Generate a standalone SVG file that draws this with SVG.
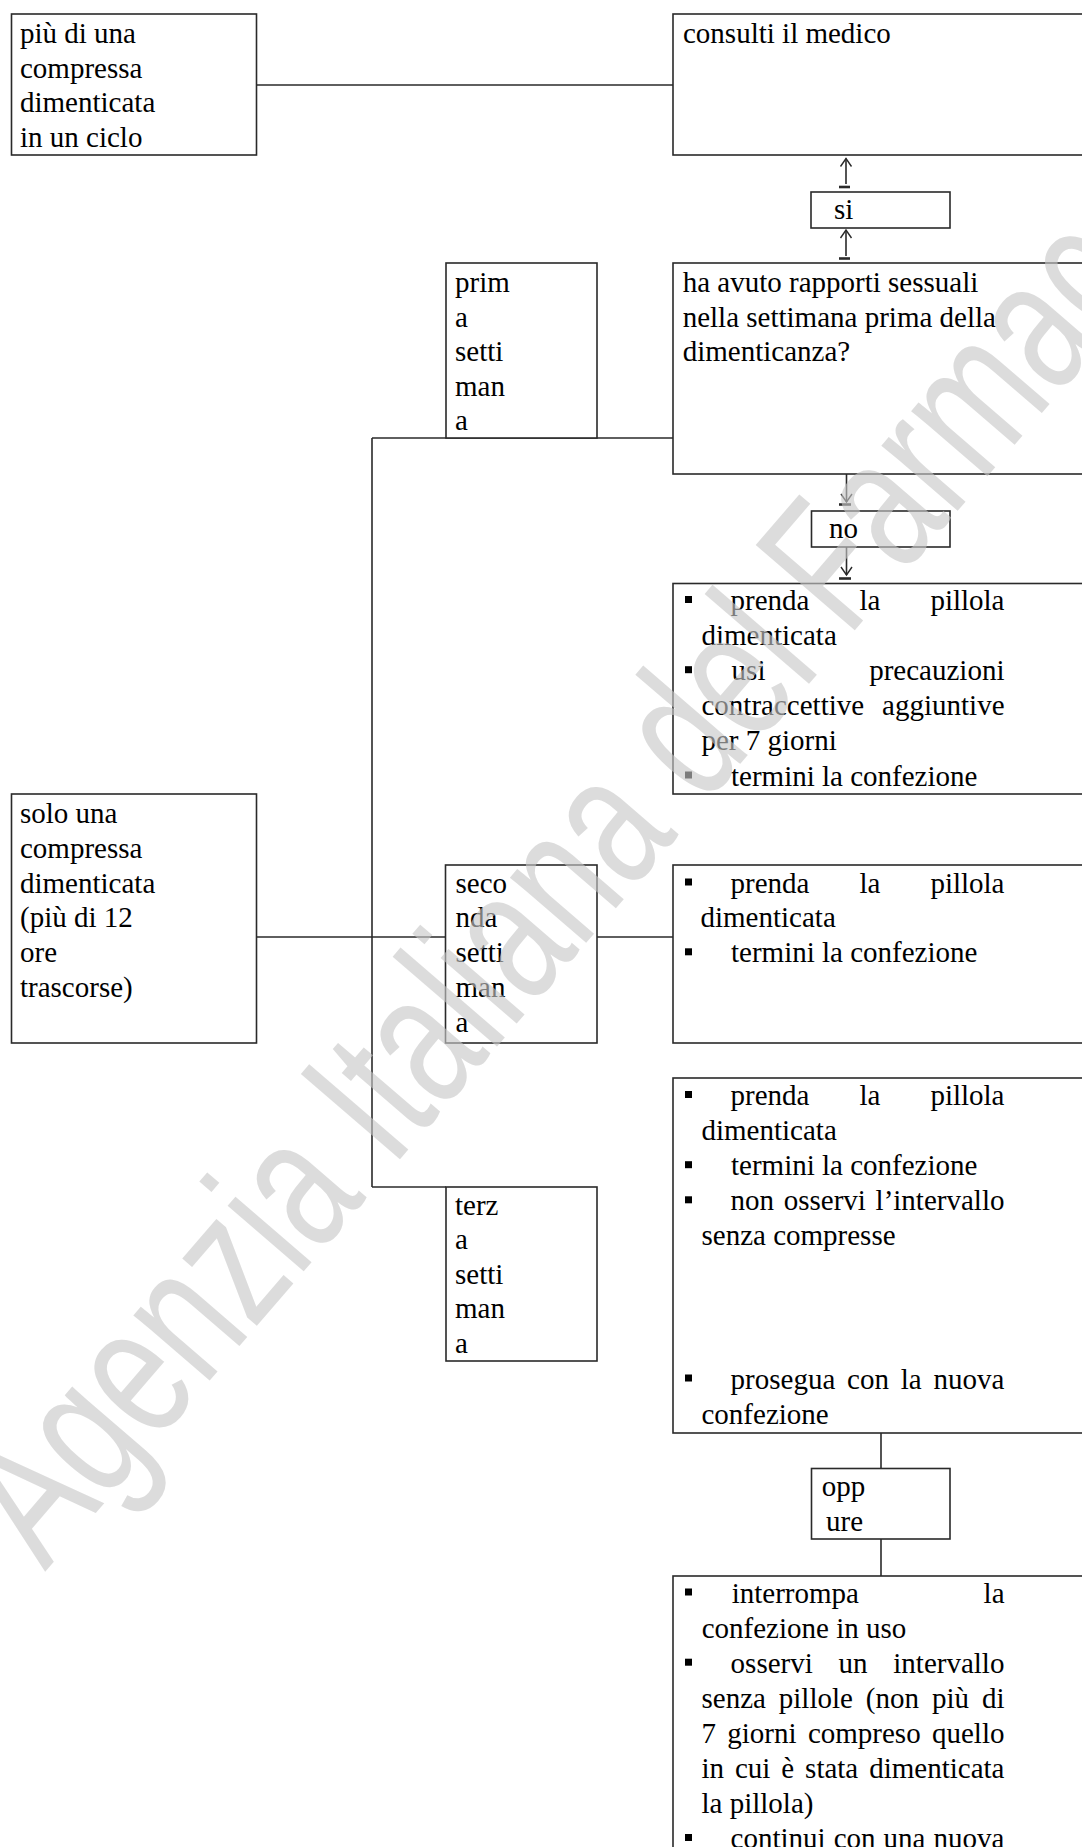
<svg xmlns="http://www.w3.org/2000/svg" width="1082" height="1847" viewBox="0 0 1082 1847">
<style>
.box{fill:#fff;stroke:#2a2a2a;stroke-width:1.6}
.ln{fill:none;stroke:#2a2a2a;stroke-width:1.6}
.tk{fill:none;stroke:#2a2a2a;stroke-width:2.6}
.t{font-family:"Liberation Serif","Times New Roman",serif;font-size:29px;fill:#000}
.b{fill:#000}
.wm{font-family:"Liberation Sans",Arial,sans-serif;font-size:190px;fill:#c8c8c8;opacity:0.62}
</style>
<defs>
<marker id="arr" markerUnits="userSpaceOnUse" viewBox="0 -7 9 14" refX="8" refY="0" markerWidth="9" markerHeight="14" orient="auto" overflow="visible">
<polyline points="0,-5.5 8,0 0,5.5" fill="none" stroke="#2a2a2a" stroke-width="1.4"/>
</marker>
</defs>
<rect width="1082" height="1847" fill="#fff"/>

<g id="connectors">
<line class="ln" x1="257" y1="85" x2="673" y2="85"/>
<line class="ln" x1="846" y1="256" x2="846" y2="230" marker-end="url(#arr)"/>
<line class="tk" x1="839" y1="258.5" x2="850" y2="258.5"/>
<line class="ln" x1="846" y1="184" x2="846" y2="158.5" marker-end="url(#arr)"/>
<line class="tk" x1="839" y1="187" x2="850" y2="187"/>
<line class="ln" x1="846.5" y1="474" x2="846.5" y2="502" marker-end="url(#arr)"/>
<line class="tk" x1="839" y1="504.5" x2="851" y2="504.5"/>
<line class="ln" x1="846.5" y1="547" x2="846.5" y2="575" marker-end="url(#arr)"/>
<line class="tk" x1="839" y1="578.5" x2="851" y2="578.5"/>
<line class="ln" x1="372" y1="438" x2="372" y2="1187"/>
<line class="ln" x1="372" y1="438" x2="673" y2="438"/>
<line class="ln" x1="257" y1="937" x2="446" y2="937"/>
<line class="ln" x1="597" y1="937" x2="673" y2="937"/>
<line class="ln" x1="372" y1="1187" x2="446" y2="1187"/>
<line class="ln" x1="881" y1="1433" x2="881" y2="1468"/>
<line class="ln" x1="881" y1="1539" x2="881" y2="1576"/>
</g>

<g id="n-piu">
<rect class="box" x="11.5" y="14" width="245" height="141"/>
<text class="t" x="20" y="43.3">più di una</text>
<text class="t" x="20" y="77.8">compressa</text>
<text class="t" x="20" y="112.3">dimenticata</text>
<text class="t" x="20" y="146.8">in un ciclo</text>
</g>

<g id="n-consulti">
<rect class="box" x="673" y="14" width="440" height="141"/>
<text class="t" x="683" y="43">consulti il medico</text>
</g>

<g id="n-si">
<rect class="box" x="811" y="192" width="139" height="36"/>
<text class="t" x="834" y="219">si</text>
</g>

<g id="n-rapporti">
<rect class="box" x="673" y="263" width="440" height="211"/>
<text class="t" x="682.7" y="292">ha avuto rapporti sessuali</text>
<text class="t" x="682.7" y="326.6">nella settimana prima della</text>
<text class="t" x="682.7" y="361.2">dimenticanza?</text>
</g>

<g id="n-prima">
<rect class="box" x="446" y="263" width="151" height="175"/>
<text class="t" x="455" y="292">prim</text>
<text class="t" x="455" y="326.6">a</text>
<text class="t" x="455" y="361.2">setti</text>
<text class="t" x="455" y="395.8">man</text>
<text class="t" x="455" y="430.4">a</text>
</g>

<g id="n-no">
<rect class="box" x="811.5" y="511" width="138.5" height="36"/>
<text class="t" x="829" y="538.3">no</text>
</g>

<g id="n-res1">
<rect class="box" x="673" y="583.5" width="440" height="210.5"/>
<rect class="b" x="685" y="596" width="7" height="7"/>
<text class="t" y="610"><tspan x="730.6">prenda</tspan><tspan x="859.5">la</tspan><tspan x="930.4">pillola</tspan></text>
<text class="t" x="701.5" y="645.1">dimenticata</text>
<rect class="b" x="685" y="666.2" width="7" height="7"/>
<text class="t" y="680.2"><tspan x="731.6">usi</tspan><tspan x="869.2">precauzioni</tspan></text>
<text class="t" y="715.3"><tspan x="701.5">contraccettive</tspan><tspan x="882.1">aggiuntive</tspan></text>
<text class="t" x="701.5" y="750.4">per 7 giorni</text>
<rect class="b" x="685" y="771.5" width="7" height="7"/>
<text class="t" x="731" y="785.5">termini la confezione</text>
</g>

<g id="n-solo">
<rect class="box" x="11.5" y="794" width="245" height="249"/>
<text class="t" x="20" y="822.7">solo una</text>
<text class="t" x="20" y="857.6">compressa</text>
<text class="t" x="20" y="892.5">dimenticata</text>
<text class="t" x="20" y="927.4">(più di 12</text>
<text class="t" x="20" y="962.3">ore</text>
<text class="t" x="20" y="997.2">trascorse)</text>
</g>

<g id="n-seconda">
<rect class="box" x="445.5" y="865" width="151.5" height="178"/>
<text class="t" x="455.5" y="892.5">seco</text>
<text class="t" x="455.5" y="927.4">nda</text>
<text class="t" x="455.5" y="962.3">setti</text>
<text class="t" x="455.5" y="997.2">man</text>
<text class="t" x="455.5" y="1032.1">a</text>
</g>

<g id="n-res2">
<rect class="box" x="673" y="865" width="440" height="178"/>
<rect class="b" x="685" y="878.5" width="7" height="7"/>
<text class="t" y="892.5"><tspan x="730.6">prenda</tspan><tspan x="859.5">la</tspan><tspan x="930.4">pillola</tspan></text>
<text class="t" x="700.5" y="927.4">dimenticata</text>
<rect class="b" x="685" y="948.3" width="7" height="7"/>
<text class="t" x="731" y="962.3">termini la confezione</text>
</g>

<g id="n-terza">
<rect class="box" x="446" y="1187" width="151" height="174"/>
<text class="t" x="455" y="1215">terz</text>
<text class="t" x="455" y="1249.4">a</text>
<text class="t" x="455" y="1283.8">setti</text>
<text class="t" x="455" y="1318.2">man</text>
<text class="t" x="455" y="1352.6">a</text>
</g>

<g id="n-res3">
<rect class="box" x="673" y="1078" width="440" height="355"/>
<rect class="b" x="685" y="1091" width="7" height="7"/>
<text class="t" y="1105"><tspan x="730.6">prenda</tspan><tspan x="859.5">la</tspan><tspan x="930.4">pillola</tspan></text>
<text class="t" x="701.5" y="1140.1">dimenticata</text>
<rect class="b" x="685" y="1161.2" width="7" height="7"/>
<text class="t" x="731" y="1175.2">termini la confezione</text>
<rect class="b" x="685" y="1196.3" width="7" height="7"/>
<text class="t" y="1210.3"><tspan x="730.6">non</tspan><tspan x="783.7">osservi</tspan><tspan x="875.6">l’intervallo</tspan></text>
<text class="t" x="701.5" y="1245.4">senza compresse</text>
<rect class="b" x="685" y="1374.5" width="7" height="7"/>
<text class="t" y="1388.5"><tspan x="730.6">prosegua</tspan><tspan x="847.1">con</tspan><tspan x="900.8">la</tspan><tspan x="933.6">nuova</tspan></text>
<text class="t" x="701.5" y="1423.6">confezione</text>
</g>

<g id="n-oppure">
<rect class="box" x="811.5" y="1468.5" width="138.5" height="70.5"/>
<text class="t" x="821.7" y="1496">opp</text>
<text class="t" x="826" y="1530.7">ure</text>
</g>

<g id="n-res4">
<rect class="box" x="673" y="1576" width="440" height="300"/>
<rect class="b" x="685" y="1588.5" width="7" height="7"/>
<text class="t" y="1602.5"><tspan x="731.7">interrompa</tspan><tspan x="983.6">la</tspan></text>
<text class="t" x="701.7" y="1637.6">confezione in uso</text>
<rect class="b" x="685" y="1658.7" width="7" height="7"/>
<text class="t" y="1672.7"><tspan x="730.6">osservi</tspan><tspan x="838.5">un</tspan><tspan x="893.3">intervallo</tspan></text>
<text class="t" y="1707.8"><tspan x="701.5">senza</tspan><tspan x="778.8">pillole</tspan><tspan x="865.8">(non</tspan><tspan x="931.9">più</tspan><tspan x="981.9">di</tspan></text>
<text class="t" y="1742.9"><tspan x="701.5">7</tspan><tspan x="727.3">giorni</tspan><tspan x="807.9">compreso</tspan><tspan x="932">quello</tspan></text>
<text class="t" y="1778"><tspan x="701.5">in</tspan><tspan x="735">cui</tspan><tspan x="781.3">è</tspan><tspan x="805.1">stata</tspan><tspan x="869.2">dimenticata</tspan></text>
<text class="t" x="701.5" y="1813.1">la pillola)</text>
<rect class="b" x="685" y="1834" width="7" height="7"/>
<text class="t" y="1848"><tspan x="730.6">continui</tspan><tspan x="833.7">con</tspan><tspan x="883.6">una</tspan><tspan x="933.6">nuova</tspan></text>
</g>

<g id="watermark">
<text class="wm" transform="translate(45,1572) rotate(-49.3)" textLength="1770" lengthAdjust="spacingAndGlyphs">Agenzia Italiana del Farmaco</text>
</g>
</svg>
